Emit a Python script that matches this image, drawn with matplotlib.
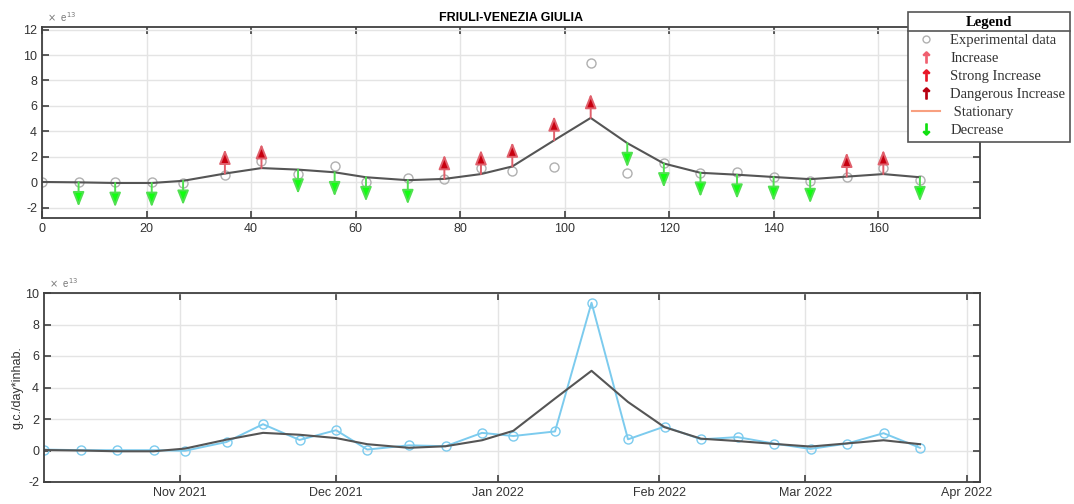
import numpy as np
import pandas as pd
import matplotlib
matplotlib.use("Agg")
import matplotlib.pyplot as plt
import matplotlib.dates as mdates
from matplotlib.lines import Line2D

# Sampling days since the first sample (2021-10-06)
days = [0, 7, 14, 21, 27, 35, 42, 49, 56, 62, 70, 77, 84, 90, 98, 105,
        112, 119, 126, 133, 140, 147, 154, 161, 168]
# Measured load, units of 1e13 g.c./day*inhab.
measured = [0.06, 0.02, 0.02, 0.02, -0.02, 0.54, 1.67, 0.67, 1.29, 0.06, 0.33,
            0.27, 1.12, 0.92, 1.21, 9.38, 0.71, 1.52, 0.71, 0.85, 0.44, 0.10,
            0.44, 1.10, 0.17]
# Smoothed trend
trend = [0.03, 0.0, -0.05, -0.05, 0.12, 0.69, 1.12, 1.0, 0.79, 0.4, 0.17,
         0.27, 0.65, 1.25, 3.3, 5.06, 3.08, 1.48, 0.75, 0.6, 0.42, 0.25,
         0.45, 0.65, 0.4]
# Trend class per sample: '' none, 'D' decrease, 'I' increase
signal = ['', 'D', 'D', 'D', 'D', 'I', 'I', 'D', 'D', 'D', 'D', 'I', 'I', 'I',
          'I', 'I', 'D', 'D', 'D', 'D', 'D', 'D', 'I', 'I', 'D']
arrow_len = 1.9

start = pd.Timestamp("2021-10-06")
dates = [start + pd.Timedelta(days=d) for d in days]

plt.rcParams['font.family'] = ['Liberation Sans', 'DejaVu Sans']
plt.rcParams['axes.unicode_minus'] = False
spine_c = '#404040'
grid_c = '#e4e4e4'

fig = plt.figure(figsize=(10.74, 5.04), dpi=100)
ax1 = fig.add_axes([42 / 1074, 1 - 218 / 504, 938 / 1074, 191 / 504])
ax2 = fig.add_axes([44 / 1074, 1 - 482 / 504, 936 / 1074, 189 / 504])

for ax in (ax1, ax2):
    ax.grid(True, color=grid_c, lw=1)
    ax.set_axisbelow(True)
    for s in ax.spines.values():
        s.set_color(spine_c)
        s.set_linewidth(1.3)
    ax.tick_params(direction='in', top=True, right=True, length=5, width=1.2,
                   color=spine_c, labelsize=9, labelcolor='#333333')

# Top panel: samples, trend and arrows
ax1.plot(days, measured, 'o', mfc='none', mec='#b0b0b0', ms=6.5, mew=1)
ax1.plot(days, trend, '-', color='#555555', lw=1.5)
head = '-|>,head_length=0.75,head_width=0.3'
for d, t, s in zip(days, trend, signal):
    if s == 'I':
        ax1.annotate('', xy=(d, t + arrow_len), xytext=(d, t),
                     arrowprops=dict(arrowstyle=head, ec='#e0606c', fc='#c80010',
                                     lw=1.4, shrinkA=0, shrinkB=0,
                                     mutation_scale=11.5))
    elif s == 'D':
        ax1.annotate('', xy=(d, t - arrow_len), xytext=(d, t),
                     arrowprops=dict(arrowstyle=head, ec='#50e050', fc='#10ff10',
                                     lw=1.4, shrinkA=0, shrinkB=0,
                                     mutation_scale=11.5))
ax1.set_xlim(0, 179.5)
ax1.set_ylim(-2.8, 12.2)
ax1.set_xticks(np.arange(0, 161, 20))
ax1.set_yticks(np.arange(-2, 13, 2))
ax1.set_title('FRIULI-VENEZIA GIULIA', fontsize=9, fontweight='bold', pad=4)
ax1.text(0.005, 1.015, r'$\times$  e$^{13}$', transform=ax1.transAxes,
         fontsize=7, color='#777777', va='bottom')

# Bottom panel: time series against calendar dates
ax2.plot(dates, measured, '-o', color='#7ccbee', mfc='none', ms=6.5, mew=1, lw=1.4)
ax2.plot(dates, trend, '-', color='#555555', lw=1.5)
ax2.set_xlim(start, start + pd.Timedelta(days=179.5))
ax2.set_ylim(-2, 10)
ax2.set_yticks(np.arange(-2, 11, 2))
ax2.xaxis.set_major_locator(mdates.MonthLocator())
ax2.xaxis.set_major_formatter(mdates.DateFormatter('%b %Y'))
ax2.set_ylabel('g.c./day*inhab.', fontsize=9, color='#333333', labelpad=1)
ax2.text(0.005, 1.015, r'$\times$  e$^{13}$', transform=ax2.transAxes,
         fontsize=7, color='#777777', va='bottom')

# Legend box in the upper right corner
handles = [
    Line2D([], [], ls='none', marker='o', mfc='none', mec='#b0b0b0', ms=5),
    Line2D([], [], ls='none', marker=r'$\uparrow$', color='#f06070', ms=8),
    Line2D([], [], ls='none', marker=r'$\uparrow$', color='#e81828', ms=8),
    Line2D([], [], ls='none', marker=r'$\uparrow$', color='#b80010', ms=8),
    Line2D([], [], color='#f8a080', lw=1.5),
    Line2D([], [], ls='none', marker=r'$\downarrow$', color='#10e010', ms=8),
]
labels = ['Experimental data', 'Increase', 'Strong Increase',
          'Dangerous Increase', ' Stationary', 'Decrease']
leg = fig.legend(handles, labels, loc='upper left',
                 bbox_to_anchor=(908 / 1074, 1 - 12 / 504), borderaxespad=0,
                 title='Legend', fancybox=False, edgecolor='#555555',
                 framealpha=1, handlelength=1.9, handletextpad=0.7,
                 labelspacing=0.33, borderpad=0.3,
                 prop={'family': 'Liberation Serif', 'size': 10.5})
leg.get_title().set_fontfamily('Liberation Serif')
leg.get_title().set_fontweight('bold')
leg.get_title().set_fontsize(10.5)
leg.get_frame().set_linewidth(1.2)
leg.set_zorder(5)
for txt in leg.get_texts():
    txt.set_color('#333333')

fig.canvas.draw()
bb = leg.get_window_extent()
tb = leg.get_title().get_window_extent()
y_sep = tb.y0 - 2
fig.add_artist(Line2D([bb.x0, bb.x1], [y_sep, y_sep], transform=None,
                      color='#555555', lw=1.2, zorder=10))

fig.savefig('out.png', dpi=100)
